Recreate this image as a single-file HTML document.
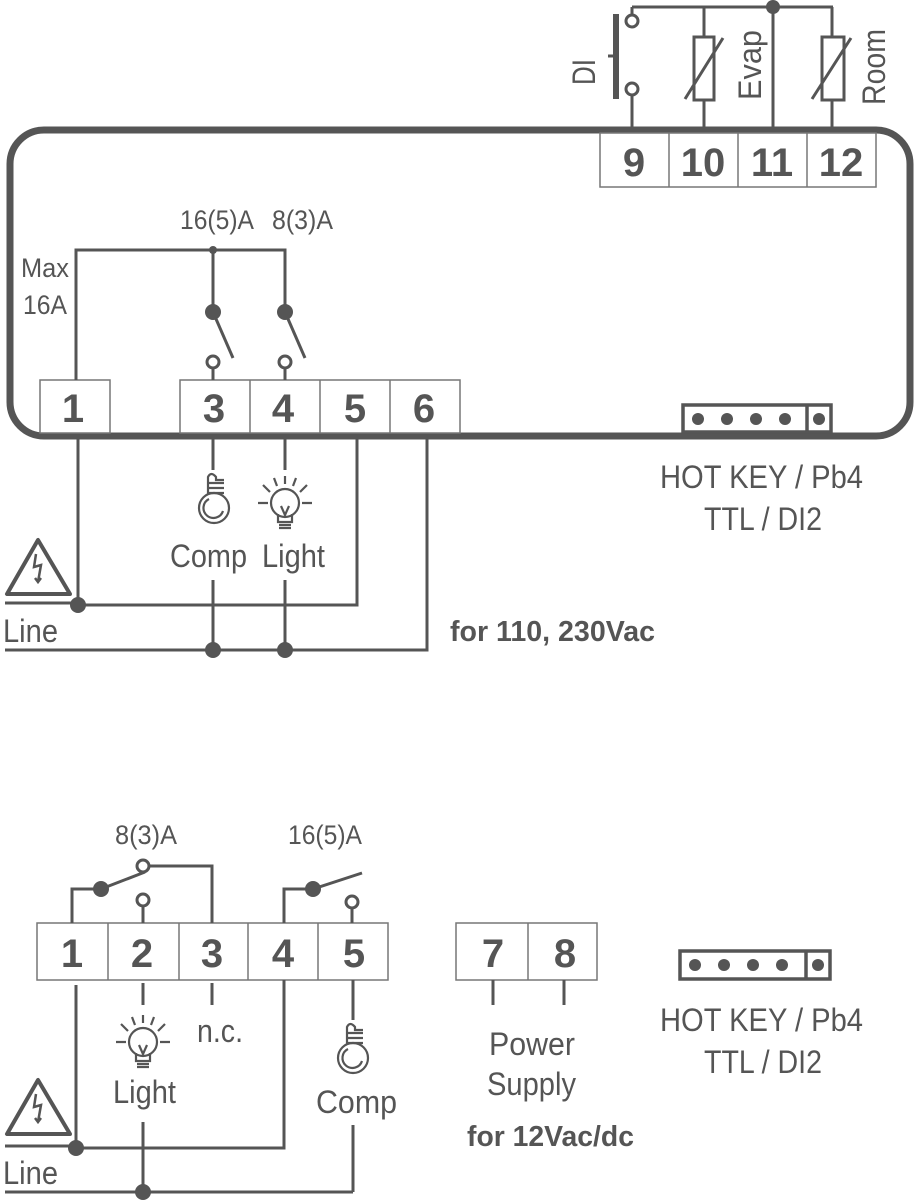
<!DOCTYPE html>
<html><head><meta charset="utf-8"><style>
html,body{margin:0;padding:0;background:#fff;}
svg{display:block;}
text{font-family:"Liberation Sans",sans-serif;fill:#555;}
.n{font-weight:bold;font-size:40px;text-anchor:middle;}
.l{font-size:32px;}
.b{font-weight:bold;font-size:29px;}
.s{font-size:27px;}
</style></head><body>
<svg width="917" height="1200" viewBox="0 0 917 1200" xmlns="http://www.w3.org/2000/svg">
<g stroke="#555" fill="none">
<rect x="10" y="130" width="900" height="306" rx="34" stroke-width="7"/>
<g stroke="#777" stroke-width="1.5" fill="#fff">
<rect x="600" y="133" width="276" height="54"/>
<line x1="669" y1="133" x2="669" y2="187"/><line x1="738" y1="133" x2="738" y2="187"/><line x1="807" y1="133" x2="807" y2="187"/>
<rect x="40" y="380" width="70" height="53"/>
<rect x="180" y="380" width="280" height="53"/>
<line x1="250" y1="380" x2="250" y2="433"/><line x1="320" y1="380" x2="320" y2="433"/><line x1="390" y1="380" x2="390" y2="433"/>
<rect x="37" y="923" width="351" height="57"/>
<line x1="108" y1="923" x2="108" y2="980"/><line x1="179" y1="923" x2="179" y2="980"/><line x1="248" y1="923" x2="248" y2="980"/><line x1="318" y1="923" x2="318" y2="980"/>
<rect x="456" y="923" width="141" height="57"/><line x1="528" y1="923" x2="528" y2="980"/>
</g>
<g stroke-width="3">
<path d="M632 7 H833 M632 14 V7 M632 95 V130 M704 7 V37 M704 100 V130 M773 7 V130 M832 7 V37 M832 100 V130"/>
<rect x="694" y="37" width="20" height="63"/>
<rect x="822" y="37" width="22" height="63"/>
<line x1="685" y1="99" x2="723" y2="38"/>
<line x1="812" y1="99" x2="851" y2="38"/>
<circle cx="632" cy="21" r="6" fill="#fff"/>
<circle cx="632" cy="89" r="6" fill="#fff"/>
<line x1="616" y1="14" x2="616" y2="99" stroke-width="6"/>
<line x1="608" y1="56" x2="616" y2="56"/>
</g>
<circle cx="773" cy="7" r="7" fill="#555" stroke="none"/>
<g stroke-width="3">
<path d="M76 380 V250 H285 V312 M213 250 V312"/>
<line x1="213" y1="312" x2="233" y2="358"/>
<line x1="285" y1="312" x2="305" y2="358"/>
<path d="M213 368 V380 M285 368 V380"/>
<circle cx="213" cy="362" r="6" fill="#fff"/>
<circle cx="285" cy="362" r="6" fill="#fff"/>
<path d="M78 437 V605 M5 603 H78 M78 605 H357 V437 M213 437 V470 M285 437 V470 M213 580 V650 M285 580 V650 M5 650 H427 V437"/>
</g>
<circle cx="213" cy="250" r="4" fill="#555" stroke="none"/>
<circle cx="213" cy="312" r="8" fill="#555" stroke="none"/>
<circle cx="285" cy="312" r="8" fill="#555" stroke="none"/>
<circle cx="78" cy="605" r="8" fill="#555" stroke="none"/>
<circle cx="213" cy="650" r="8" fill="#555" stroke="none"/>
<circle cx="285" cy="650" r="8" fill="#555" stroke="none"/>
<g stroke-width="4" stroke-linejoin="round">
<path d="M38 540 L7 594 H70 Z"/>
<path d="M38 1080 L7 1134 H70 Z"/>
</g>
<g stroke-width="2.5">
<path d="M36 554 L34 567 L41 565 L38 582 M35 578 L38 582 L41 578"/>
<path d="M36 1094 L34 1107 L41 1105 L38 1122 M35 1118 L38 1122 L41 1118"/>
</g>
<g stroke-width="2.2">
<circle cx="214" cy="508" r="15"/><path d="M223 511 A10 10 0 1 1 209 499"/>
<path d="M208 494 V477 Q211 471 216 477 V480 H224 M208 483 H224 M208 488 H224 M208 493 H224"/>
<circle cx="285" cy="503" r="14"/><path d="M278 514 V522 H292 V514 M279 525 H291 M279 528 H291 M281 506 L285 515 L289 506"/>
<path d="M270 492 L263 485 M285 484 V476 M300 492 L307 485 M268 503 H258 M302 503 H312 M277 486 L274 478 M293 486 L296 478"/>
<circle cx="353" cy="1058" r="15"/><path d="M362 1061 A10 10 0 1 1 348 1049"/>
<path d="M347 1044 V1027 Q350 1021 355 1027 V1030 H363 M347 1033 H363 M347 1038 H363 M347 1043 H363"/>
<circle cx="143" cy="1042" r="14"/><path d="M136 1053 V1061 H150 V1053 M137 1064 H149 M137 1067 H149 M139 1045 L143 1054 L147 1045"/>
<path d="M128 1031 L121 1024 M143 1023 V1015 M158 1031 L165 1024 M126 1042 H116 M160 1042 H170 M135 1025 L132 1017 M151 1025 L154 1017"/>
</g>
<g stroke-width="3">
<path d="M72 923 V889 H101 M143 906 V923 M212 923 V866 H149 M284 923 V889 H313 M352 908 V923"/>
<line x1="101" y1="889" x2="145" y2="872"/>
<line x1="313" y1="889" x2="362" y2="873"/>
<circle cx="143" cy="866" r="6" fill="#fff"/>
<circle cx="143" cy="900" r="6" fill="#fff"/>
<circle cx="352" cy="902" r="6" fill="#fff"/>
<path d="M76 985 V1148 M5 1146 H76 M76 1148 H284 V980 M143 983 V1005 M212 983 V1005 M353 980 V1020 M143 1122 V1192 M353 1125 V1192 M5 1192 H353 M493 980 V1005 M564 980 V1005"/>
</g>
<circle cx="101" cy="889" r="8" fill="#555" stroke="none"/>
<circle cx="313" cy="889" r="8" fill="#555" stroke="none"/>
<circle cx="76" cy="1148" r="8" fill="#555" stroke="none"/>
<circle cx="143" cy="1192" r="8" fill="#555" stroke="none"/>
<g stroke-width="3.5">
<rect x="683" y="405" width="148" height="27"/><line x1="807" y1="405" x2="807" y2="432"/>
<rect x="680" y="951" width="150" height="28"/><line x1="806" y1="951" x2="806" y2="979"/>
</g>
</g>
<g fill="#555">
<circle cx="698" cy="419" r="6"/><circle cx="727" cy="419" r="6"/><circle cx="756" cy="419" r="6"/><circle cx="785" cy="419" r="6"/><circle cx="819" cy="419" r="6"/>
<circle cx="695" cy="965" r="6"/><circle cx="724" cy="965" r="6"/><circle cx="753" cy="965" r="6"/><circle cx="782" cy="965" r="6"/><circle cx="818" cy="965" r="6"/>
</g>
<text class="n" x="634" y="176">9</text><text class="n" x="703" y="176">10</text><text class="n" x="772" y="176">11</text><text class="n" x="841" y="176">12</text>
<text class="n" x="73" y="422">1</text><text class="n" x="214" y="422">3</text><text class="n" x="283" y="422">4</text><text class="n" x="355" y="422">5</text><text class="n" x="424" y="422">6</text>
<text class="n" x="72" y="967">1</text><text class="n" x="142" y="967">2</text><text class="n" x="212" y="967">3</text><text class="n" x="283" y="967">4</text><text class="n" x="354" y="967">5</text>
<text class="n" x="493" y="967">7</text><text class="n" x="565" y="967">8</text>
<text class="l" transform="translate(595,72) rotate(-90)" text-anchor="middle" textLength="26" lengthAdjust="spacingAndGlyphs">DI</text>
<text class="l" transform="translate(761,65) rotate(-90)" text-anchor="middle" textLength="70" lengthAdjust="spacingAndGlyphs">Evap</text>
<text class="l" transform="translate(885,67) rotate(-90)" text-anchor="middle" textLength="76" lengthAdjust="spacingAndGlyphs">Room</text>
<text class="s" x="180" y="229" textLength="74" lengthAdjust="spacingAndGlyphs">16(5)A</text>
<text class="s" x="272" y="229" textLength="61" lengthAdjust="spacingAndGlyphs">8(3)A</text>
<text class="s" x="21" y="277" textLength="48" lengthAdjust="spacingAndGlyphs">Max</text>
<text class="s" x="23" y="314" textLength="44" lengthAdjust="spacingAndGlyphs">16A</text>
<text class="l" x="170" y="567" textLength="77" lengthAdjust="spacingAndGlyphs">Comp</text>
<text class="l" x="262" y="567" textLength="63" lengthAdjust="spacingAndGlyphs">Light</text>
<text class="l" x="3" y="642" textLength="55" lengthAdjust="spacingAndGlyphs">Line</text>
<text class="b" x="450" y="641" textLength="205" lengthAdjust="spacingAndGlyphs">for 110, 230Vac</text>
<text class="l" x="660" y="488" textLength="203" lengthAdjust="spacingAndGlyphs">HOT KEY / Pb4</text>
<text class="l" x="704" y="530" textLength="118" lengthAdjust="spacingAndGlyphs">TTL / DI2</text>
<text class="s" x="115" y="844" textLength="62" lengthAdjust="spacingAndGlyphs">8(3)A</text>
<text class="s" x="288" y="844" textLength="74" lengthAdjust="spacingAndGlyphs">16(5)A</text>
<text class="l" x="197" y="1042" textLength="46" lengthAdjust="spacingAndGlyphs">n.c.</text>
<text class="l" x="113" y="1103" textLength="63" lengthAdjust="spacingAndGlyphs">Light</text>
<text class="l" x="316" y="1113" textLength="81" lengthAdjust="spacingAndGlyphs">Comp</text>
<text class="l" x="3" y="1184" textLength="55" lengthAdjust="spacingAndGlyphs">Line</text>
<text class="l" x="489" y="1055" textLength="86" lengthAdjust="spacingAndGlyphs">Power</text>
<text class="l" x="487" y="1095" textLength="89" lengthAdjust="spacingAndGlyphs">Supply</text>
<text class="b" x="467" y="1146" textLength="167" lengthAdjust="spacingAndGlyphs">for 12Vac/dc</text>
<text class="l" x="660" y="1031" textLength="203" lengthAdjust="spacingAndGlyphs">HOT KEY / Pb4</text>
<text class="l" x="704" y="1073" textLength="118" lengthAdjust="spacingAndGlyphs">TTL / DI2</text>
</svg>
</body></html>
